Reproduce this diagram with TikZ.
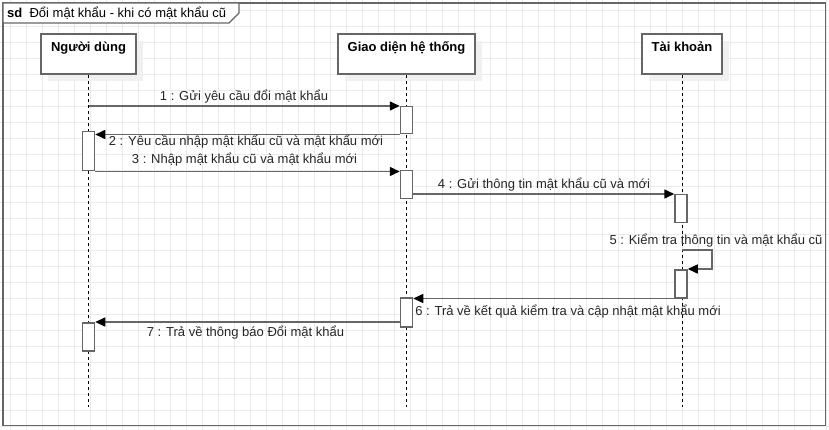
\documentclass[tikz,border=0pt]{standalone}
\usepackage{fontspec}
\setmainfont{Liberation Sans}
\usetikzlibrary{arrows.meta, positioning, shadows}
\definecolor{linegray}{HTML}{666666}
\definecolor{gridgray}{HTML}{EBEBEB}
\definecolor{shadowgray}{HTML}{F0F0F0}

\begin{document}
\begin{tikzpicture}[x=1pt, y=-1pt,
  font=\fontsize{13}{15}\selectfont,
  head/.style={draw=linegray, line width=1.5pt, fill=white, anchor=north,
               font=\fontsize{13}{15}\selectfont\bfseries,
               minimum height=40pt, text height=14.5pt, text depth=19.5pt, inner ysep=3pt,
               drop shadow={shadow xshift=7pt, shadow yshift=-7pt, fill=shadowgray, opacity=1}},
  act/.style={draw=linegray, line width=1.5pt, fill=white, anchor=north,
              minimum width=12pt, inner sep=0pt},
  life/.style={black, line width=0.9pt, dash pattern=on 3pt off 3pt},
  msg/.style={draw=linegray, line width=1.5pt, -{Triangle[length=10pt, width=9pt, black]}},
  lbl/.style={anchor=base, text=black!85, inner sep=0pt},
  gridline/.style={gridgray, line width=0.8pt}]
\useasboundingbox (0,0) rectangle (829,430);
\fill[white] (0,0) rectangle (829,430);
\foreach \gx in {10,26,...,826} \draw[gridline] (\gx,0) -- (\gx,430);
\foreach \gy in {10,26,...,426} \draw[gridline] (0,\gy) -- (829,\gy);

% frame
\draw[linegray, line width=1.8pt] (3,3) rectangle (825.5,425.5);
\draw[linegray, line width=1.4pt, fill=white] (3,3) -- (239,3) -- (239,13) -- (229,23) -- (3,23) -- cycle;
\node[anchor=base west, inner sep=0pt] (title) at (7,17.5) {\textbf{sd}\ \ Đổi mật khẩu - khi có mật khẩu cũ};

% lifelines
\node[head, minimum width=95pt] (user) at (88.5,33.5) {Người dùng};
\node[head, minimum width=137pt] (ui) at (406.5,33.5) {Giao diện hệ thống};
\node[head, minimum width=80pt] (acc) at (682,33.5) {Tài khoản};
\coordinate (userend) at (88.5,407);
\coordinate (uiend) at (406.5,407);
\coordinate (accend) at (682,407);
\draw[life] (user) -- (userend);
\draw[life] (ui) -- (uiend);
\draw[life] (acc) -- (accend);

% activations
\node[act, minimum height=27pt] (a1) at (406.5,106) {};
\node[act, minimum height=39pt] (b1) at (88.5,131) {};
\node[act, minimum height=28pt] (a2) at (406.5,170) {};
\node[act, minimum height=28pt] (c1) at (681,194) {};
\node[act, minimum height=28pt] (c2) at (681,269) {};
\node[act, minimum height=29pt] (a3) at (406.5,297) {};
\node[act, minimum height=28pt] (b2) at (88.5,322) {};

% messages
\coordinate (m1) at (88.5,106);
\coordinate (m5) at (682,250);
\draw[msg] (m1) -- (a1.north west);
\draw[msg] (a1.south west) -- (a1.south west -| b1.east);
\draw[msg] (b1.south east) -- (b1.south east -| a2.west);
\draw[msg] (c1.north west -| a2.east) -- (c1.north west);
\draw[msg] (m5) -- ++(30,0) |- (c2.north east);
\draw[msg] (c2.south west) -- (c2.south west -| a3.east);
\draw[msg] (b2.north east -| a3.west) -- (b2.north east);

\node[lbl] (l1) at (244,100.5) {1 : Gửi yêu cầu đổi mật khẩu};
\node[lbl] (l2) at (246,145.5) {2 : Yêu cầu nhập mật khẩu cũ và mật khẩu mới};
\node[lbl] (l3) at (244.5,164) {3 : Nhập mật khẩu cũ và mật khẩu mới};
\node[lbl] (l4) at (544,189) {4 : Gửi thông tin mật khẩu cũ và mới};
\node[lbl] (l5) at (716,244) {5 : Kiểm tra thông tin và mật khẩu cũ};
\node[lbl] (l6) at (568,315.5) {6 : Trả về kết quả kiểm tra và cập nhật mật khẩu mới};
\node[lbl] (l7) at (245.5,336) {7 : Trả về thông báo Đổi mật khẩu};
\end{tikzpicture}
\end{document}
